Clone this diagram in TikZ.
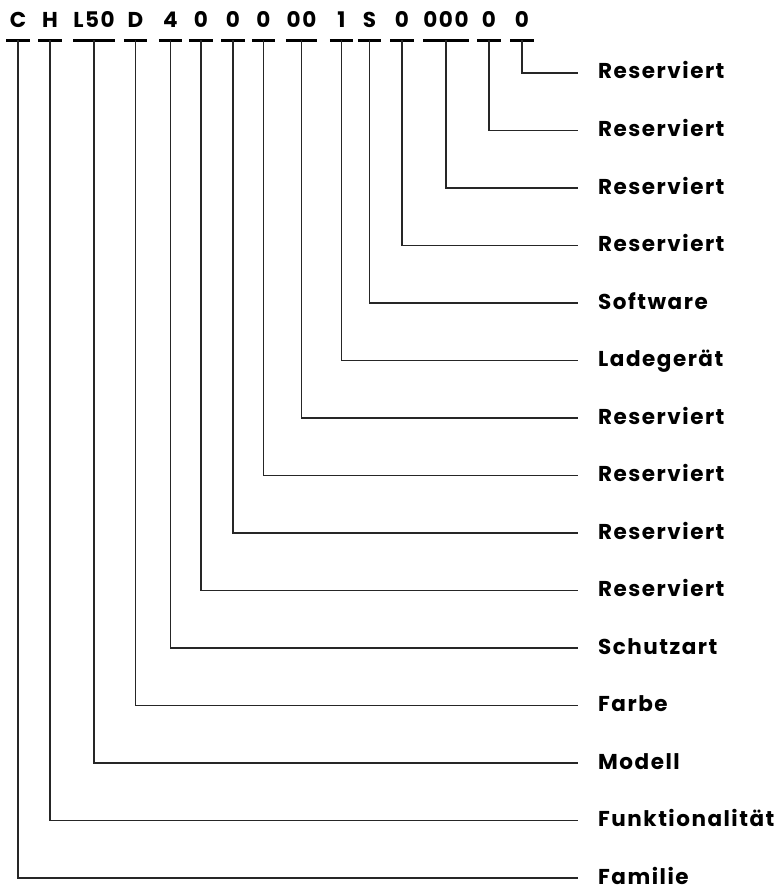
\documentclass[tikz,border=0pt]{standalone}
\usepackage{fontspec}
\setmainfont{Poppins}[LetterSpace=7]
\tikzstyle{code} = [inner sep=0pt, anchor=base, text depth=12pt, minimum width=23pt, font=\fontsize{21.5}{25}\selectfont\bfseries]
\tikzstyle{field} = [inner sep=0pt, anchor=west, text height=14pt, text depth=2pt, font=\fontsize{21.5}{25}\selectfont\bfseries]
\tikzstyle{bar} = [line width=3pt]
\tikzstyle{link} = [line width=1.2pt, draw=black!85]

\begin{document}
\begin{tikzpicture}[x=1pt, y=-1pt]
  \useasboundingbox (0,0) rectangle (780,888);

  % the type code
  \node (c1) [code] at (18,28) {C};
  \node (c2) [code] at (50,28) {H};
  \node (c3) [code, minimum width=38pt] at (94,28) {L50};
  \node (c4) [code] at (135.5,28) {D};
  \node (c5) [code] at (170.5,28) {4};
  \node (c6) [code] at (201,28) {0};
  \node (c7) [code] at (233,28) {0};
  \node (c8) [code] at (263.5,28) {0};
  \node (c9) [code, minimum width=31pt] at (301.5,28) {00};
  \node (c10) [code] at (341.5,28) {1};
  \node (c11) [code] at (369.5,28) {S};
  \node (c12) [code] at (402,28) {0};
  \node (c13) [code, minimum width=38pt] at (446,28) {000};
  \node (c14) [code] at (489,28) {0};
  \node (c15) [code] at (522,28) {0};

  % meaning of each part, bottom up
  \foreach \lab [count=\i] in {Familie, Funktionalität, Modell, Farbe, Schutzart,
      Reserviert, Reserviert, Reserviert, Reserviert, Ladegerät, Software,
      Reserviert, Reserviert, Reserviert, Reserviert}
    \node (f\i) [field] at (598,{73+57.5*(15-\i)}) {\lab};

  \foreach \i in {1,...,15} {
    \draw [bar] (c\i.south west) -- (c\i.south east);
    \draw [link] (c\i.south) |- ([xshift=-20pt]f\i.west);
  }
\end{tikzpicture}
\end{document}
